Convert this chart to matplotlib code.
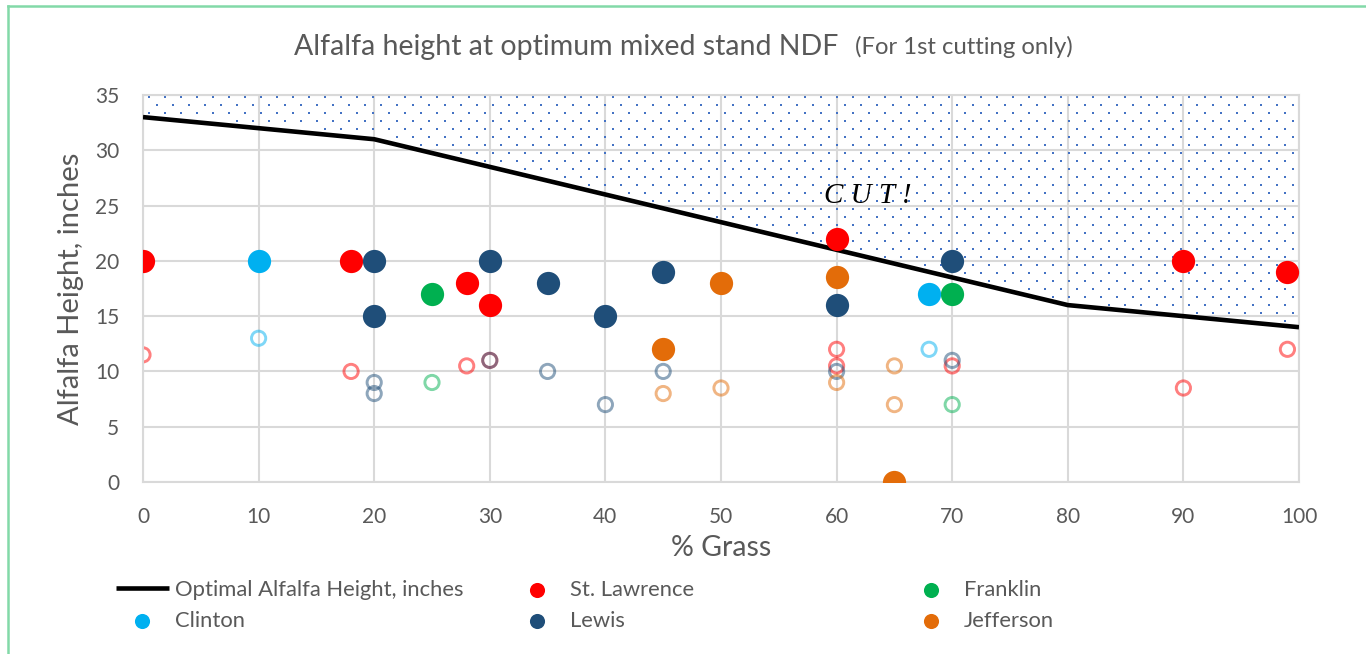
import numpy as np
import matplotlib
matplotlib.use("Agg")
import matplotlib.pyplot as plt
from matplotlib.lines import Line2D

# optimal alfalfa height line
grass_pct = [0, 10, 20, 30, 40, 50, 60, 70, 80, 90, 100]
opt_height = [33, 32, 31, 28.5, 26, 23.5, 21, 18.5, 16, 15, 14]

# filled markers (one per county)
stl_x = [0, 18, 28, 30, 60, 90, 99]
stl_y = [20, 20, 18, 16, 22, 20, 19]
franklin_x = [25, 70]
franklin_y = [17, 17]
clinton_x = [10, 68]
clinton_y = [20, 17]
lewis_x = [20, 20, 30, 35, 40, 45, 60, 70]
lewis_y = [20, 15, 20, 18, 15, 19, 16, 20]
jefferson_x = [45, 50, 60, 65]
jefferson_y = [12, 18, 18.5, 0]

# hollow markers
stl_hx = [0, 18, 28, 30, 60, 60, 70, 90, 99]
stl_hy = [11.5, 10, 10.5, 11, 12, 10.5, 10.5, 8.5, 12]
franklin_hx = [25, 70]
franklin_hy = [9, 7]
clinton_hx = [10, 68]
clinton_hy = [13, 12]
lewis_hx = [20, 20, 30, 35, 40, 45, 60, 70]
lewis_hy = [9, 8, 11, 10, 7, 10, 10, 11]
jefferson_hx = [45, 50, 60, 65, 65]
jefferson_hy = [8, 8.5, 9, 10.5, 7]

c_stl = "#FF0000"
c_franklin = "#00B050"
c_clinton = "#00B0F0"
c_lewis = "#1F4E79"
c_jefferson = "#E36C09"
txt = "#595959"
grid = "#D9D9D9"

plt.rcParams['font.family'] = ['Lato', 'DejaVu Sans']

fig = plt.figure(figsize=(13.66, 6.54), dpi=100)
ax = fig.add_axes([143/1366, 1-482/654, (1299-143)/1366, (482-95)/654])

# dotted "cut" zone above the optimal line (Excel style dot pattern)
dx, dy = 1.384, 0.723
rows = np.arange(34.8, 0, -dy)
px, py = [], []
for k, yy in enumerate(rows):
    xx = np.arange(0.5 + (dx / 2) * (k % 2), 100, dx)
    keep = yy > np.interp(xx, grass_pct, opt_height) + 0.35
    px.extend(xx[keep])
    py.extend([yy] * keep.sum())
ax.scatter(px, py, s=3.6, marker="s", color="#4472C4", linewidths=0, zorder=1)

opt_line, = ax.plot(grass_pct, opt_height, color="black", lw=3.3, zorder=3,
                    label="Optimal Alfalfa Height, inches", solid_capstyle="butt")

hollow = [(stl_hx, stl_hy, c_stl), (franklin_hx, franklin_hy, c_franklin),
          (clinton_hx, clinton_hy, c_clinton), (lewis_hx, lewis_hy, c_lewis),
          (jefferson_hx, jefferson_hy, c_jefferson)]
for hx, hy, c in hollow:
    ax.scatter(hx, hy, s=105, facecolors="none", edgecolors=c, linewidths=2.1,
               alpha=0.5, zorder=2)

big = 280
h_stl = ax.scatter(stl_x, stl_y, s=big, color=c_stl, zorder=4, label="St. Lawrence", linewidths=0)
h_fr = ax.scatter(franklin_x, franklin_y, s=big, color=c_franklin, zorder=4, label="Franklin", linewidths=0)
h_cl = ax.scatter(clinton_x, clinton_y, s=big, color=c_clinton, zorder=4, label="Clinton", linewidths=0)
h_lw = ax.scatter(lewis_x, lewis_y, s=big, color=c_lewis, zorder=4, label="Lewis", linewidths=0)
h_jf = ax.scatter(jefferson_x, jefferson_y, s=big, color=c_jefferson, zorder=4, label="Jefferson", linewidths=0)

ax.set_xlim(0, 100)
ax.set_ylim(0, 35)
ax.set_xticks(np.arange(0, 101, 10))
ax.set_yticks(np.arange(0, 36, 5))
ax.grid(True, color=grid, lw=1.5)
ax.set_axisbelow(True)
for s in ax.spines.values():
    s.set_color(grid)
    s.set_linewidth(1.5)
ax.tick_params(length=0, labelsize=15, labelcolor=txt)
ax.tick_params(axis="y", pad=17)
ax.tick_params(axis="x", pad=18)
ax.set_xlabel("% Grass", fontsize=20.5, color=txt, labelpad=6)
ax.set_ylabel("Alfalfa Height, inches", fontsize=21, color=txt, labelpad=8)

ax.text(62.7, 25.9, "C U T !", family="Liberation Serif", style="italic",
        fontsize=21, ha="center", va="center", color="black")

fig.text(838/1366, 1-47/654, "Alfalfa height at optimum mixed stand NDF", fontsize=20.5,
         color=txt, ha="right", va="center")
fig.text(855/1366, 1-47/654, "(For 1st cutting only)", fontsize=17.2,
         color=txt, ha="left", va="center")

# legend: three equal-width columns like Excel
cols = [([opt_line, h_cl], ["Optimal Alfalfa Height, inches", "Clinton"], 116),
        ([h_stl, h_lw], ["St. Lawrence", "Lewis"], 511),
        ([h_fr, h_jf], ["Franklin", "Jefferson"], 905)]
for hs, labs, xpx in cols:
    fig.legend(hs, labs, loc="upper left", bbox_to_anchor=(xpx/1366, 1-580/654),
               frameon=False, fontsize=15.8, labelcolor=txt, handlelength=2.4,
               handletextpad=0.27, borderpad=0, borderaxespad=0, labelspacing=0.5,
               markerscale=0.65)

# green frame of the chart object
fig.add_artist(Line2D([8/1366, 1], [1-6/654, 1-6/654], color="#82D9A8", lw=1.8))
fig.add_artist(Line2D([8/1366, 8/1366], [0, 1-6/654], color="#82D9A8", lw=1.8))

fig.savefig("out.png", dpi=100)
